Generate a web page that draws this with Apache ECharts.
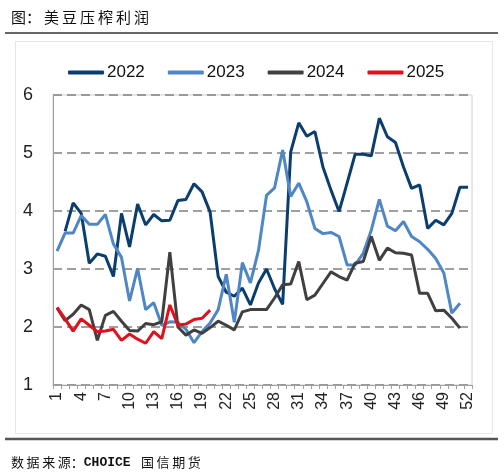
<!DOCTYPE html>
<html>
<head>
<meta charset="utf-8">
<script src="https://cdn.jsdelivr.net/npm/echarts@6/dist/echarts.min.js"></script>
<style>
html,body{margin:0;padding:0;background:#fff;}
#c{width:504px;height:472px;}
</style>
</head>
<body>
<div id="c"></div>
<script>
var weeks = [];
for (var i = 1; i <= 52; i++) weeks.push(String(i));

var s2022 = [null, 3.65, 4.14, 3.96, 3.10, 3.26, 3.22, 2.87, 3.96, 3.38, 4.12, 3.76, 3.94, 3.83, 3.84, 4.18, 4.20, 4.47, 4.33, 3.98,
  2.87, 2.60, 2.53, 2.67, 2.38, 2.76, 3.00, 2.66, 2.39, 5.02, 5.52, 5.29, 5.37, 4.76, 4.36, 3.99, 4.48, 4.98, 4.98, 4.95,
  5.60, 5.28, 5.18, 4.76, 4.39, 4.45, 3.70, 3.84, 3.76, 3.96, 4.41, 4.41];
var s2023 = [3.31, 3.62, 3.62, 3.92, 3.77, 3.77, 3.94, 3.43, 3.20, 2.45, 3.01, 2.30, 2.42, 2.03, 2.09, 2.08, 1.96, 1.73, 1.92, 2.07,
  2.30, 2.91, 2.08, 3.11, 2.76, 3.32, 4.27, 4.40, 5.05, 4.25, 4.48, 4.16, 3.70, 3.61, 3.63, 3.56, 3.07, 3.07, 3.27, 3.67,
  4.20, 3.74, 3.66, 3.82, 3.56, 3.47, 3.34, 3.18, 2.93, 2.24, 2.41];
var s2024 = [2.33, 2.11, 2.22, 2.38, 2.30, 1.77, 2.20, 2.27, 2.10, 1.94, 1.93, 2.06, 2.04, 2.09, 3.29, 2.00, 1.86, 1.95, 1.89, 1.99,
  2.10, 2.03, 1.95, 2.26, 2.30, 2.30, 2.30, 2.50, 2.73, 2.74, 3.13, 2.47, 2.55, 2.75, 2.95, 2.87, 2.81, 3.10, 3.13, 3.56,
  3.15, 3.36, 3.28, 3.27, 3.24, 2.58, 2.58, 2.28, 2.29, 2.15, 1.98];
var s2025 = [2.34, 2.14, 1.93, 2.14, 2.03, 1.92, 1.93, 1.96, 1.77, 1.88, 1.79, 1.72, 1.92, 1.80, 2.38, 2.03, 2.05, 2.13, 2.15, 2.29];

var seriesNames = ['2022', '2023', '2024', '2025'];
var seriesData = [s2022, s2023, s2024, s2025];
var colors = ['#0b3d6e', '#4f86c4', '#404040', '#e0101c'];

var chart = echarts.init(document.getElementById('c'));
var series = seriesNames.map(function (n, k) {
  return {
    name: n, type: 'line', data: seriesData[k], symbol: 'none', connectNulls: false,
    lineStyle: { width: 3, color: colors[k] }, itemStyle: { color: colors[k] }
  };
});

var ts = '\u2009';
chart.setOption({
  animation: false,
  backgroundColor: '#fff',
  textStyle: { fontFamily: 'Liberation Sans, Arial, sans-serif' },
  title: [{
    text: ['图：', '美', '豆', '压', '榨', '利', '润'].join(ts), left: 6, top: 5,
    textStyle: { fontFamily: 'Noto Sans CJK SC', fontSize: 15, fontWeight: 'normal', color: '#111' }
  }, {
    text: '{c|数' + ts + '据' + ts + '来' + ts + '源：}{m|CHOICE}{c|' + ts + ts + ts + ts + '国' + ts + '信' + ts + '期' + ts + '货}',
    left: 6, top: 451,
    textStyle: {
      fontWeight: 'normal',
      rich: {
        c: { fontFamily: 'Noto Sans CJK SC', fontSize: 13, color: '#111', fontWeight: 'normal' },
        m: { fontFamily: 'Liberation Mono, DejaVu Sans Mono, monospace', fontSize: 13, color: '#111', fontWeight: 'bold' }
      }
    }
  }],
  graphic: [
    { type: 'line', shape: { x1: 5, y1: 33, x2: 498, y2: 33 }, style: { stroke: '#333', lineWidth: 1.5 } },
    { type: 'line', shape: { x1: 5, y1: 439, x2: 498, y2: 439 }, style: { stroke: '#555', lineWidth: 2.5 } },
    { type: 'rect', shape: { x: 15.5, y: 41.5, width: 477, height: 392 }, style: { fill: 'none', stroke: '#e6e6e6', lineWidth: 1 }, z: -1 }
  ],
  color: colors,
  legend: {
    data: seriesNames, left: 63, top: 59, itemWidth: 36, itemHeight: 4, itemGap: 23,
    icon: 'roundRect',
    textStyle: { fontSize: 17, color: '#111', fontFamily: 'Liberation Sans, Arial, sans-serif', padding: [0, 0, 0, -2] }
  },
  grid: { left: 53, right: 32, top: 95, bottom: 87, show: true, borderColor: '#d0d0d0', borderWidth: 1 },
  xAxis: {
    type: 'category', data: weeks, boundaryGap: true,
    axisLine: { lineStyle: { color: '#a0a0a0', width: 1 } },
    axisTick: { show: true, interval: 0, length: 4, lineStyle: { color: '#a0a0a0' } },
    axisLabel: { interval: 2, rotate: 90, margin: 7, fontSize: 16, color: '#222' },
    splitLine: { show: false }
  },
  yAxis: {
    type: 'value', min: 1, max: 6, interval: 1,
    axisLine: { show: true, lineStyle: { color: '#a0a0a0' } },
    axisTick: { show: false },
    axisLabel: { fontSize: 18, color: '#222', margin: 20 },
    splitLine: { show: true, lineStyle: { type: [9, 5], color: '#808080', width: 1.5 } }
  },
  series: series
});
</script>
</body>
</html>
